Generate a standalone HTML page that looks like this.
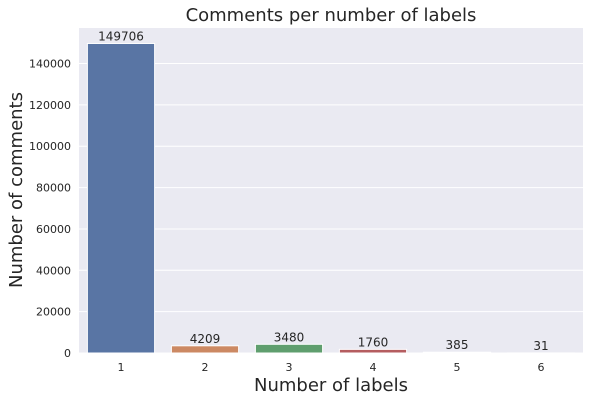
<!DOCTYPE html>
<html><head><meta charset="utf-8"><style>
body{margin:0;background:#fff}
svg text{font-family:"DejaVu Sans","Liberation Sans",sans-serif;fill:#262626}
</style></head><body>
<svg width="590" height="402" id="c">
<text x="331" y="21" font-size="18" text-anchor="middle">Comments per number of labels</text>
<text x="331" y="391" font-size="18" text-anchor="middle">Number of labels</text>
<text transform="translate(22,190) rotate(-90)" font-size="18" text-anchor="middle">Number of comments</text>
</svg>
<script>
const categories=["1","2","3","4","5","6"];
const heights=[149706,3480,4209,1760,385,31];
const valueLabels=["149706","4209","3480","1760","385","31"];
const yTicks=[0,20000,40000,60000,80000,100000,120000,140000];
const colors=["#5975a4","#cc8963","#5f9e6e","#b55d60","#857aab","#8d7866"];
const L=79,R=583,T=28,B=353,ymax=157191;
const y=v=>B-(v/ymax)*(B-T);
const bw=(R-L)/categories.length;
const x=i=>L+bw*i;
const s=document.getElementById('c');
const NS="http://www.w3.org/2000/svg";
function mk(t,a){const e=document.createElementNS(NS,t);for(const k in a)e.setAttribute(k,a[k]);s.appendChild(e);return e;}
const bg=mk('rect',{x:L,y:T,width:R-L,height:B-T,fill:'#eaeaf2'});


yTicks.forEach(v=>{
 const g=mk('line',{x1:L,x2:R,y1:y(v),y2:y(v),stroke:'#fff','stroke-width':1});
 
 
 const t=mk('text',{x:L-8,y:y(v)+4,'font-size':11,'text-anchor':'end'});
 t.textContent=v;
 
 
});
categories.forEach((c,i)=>{
 const bx=x(i)+bw*0.1,w=bw*0.8,top=y(heights[i]);
 const r=mk('rect',{x:bx,y:top,width:w,height:B-top,fill:colors[i],stroke:'#fff','stroke-width':1});
 
 
 const l=mk('text',{x:x(i)+bw/2,y:top-3,'font-size':12,'text-anchor':'middle'});
 l.textContent=valueLabels[i];
 
 
 const t=mk('text',{x:x(i)+bw/2,y:B+18,'font-size':11,'text-anchor':'middle'});
 t.textContent=c;
 
 
});
</script>
</body></html>
